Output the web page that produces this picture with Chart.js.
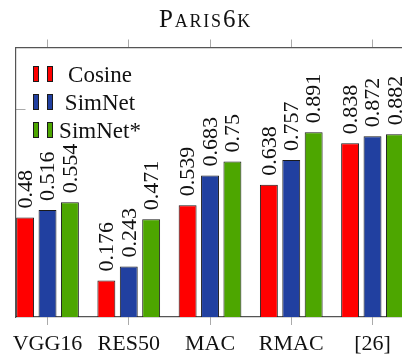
<!DOCTYPE html>
<html>
<head>
<meta charset="utf-8">
<script src="https://cdn.jsdelivr.net/npm/chart.js@4.4.1/dist/chart.umd.min.js"></script>
<style>
  html, body { margin:0; padding:0; background:#fff; overflow:hidden; }
  #wrap { position:relative; width:412px; height:356px; }
  #title { position:absolute; left:0; top:6px; width:411px; text-align:center;
           font-family:'Liberation Serif', serif; font-size:25px; line-height:1;
           font-variant:small-caps; letter-spacing:1.8px; color:#111; }
</style>
</head>
<body>
<div id="wrap">
  <canvas id="myChart"></canvas>
  <div id="title">Paris6k</div>
</div>
<script>
var categories = ['VGG16', 'RES50', 'MAC', 'RMAC', '[26]']
var cosine = [0.48, 0.176, 0.539, 0.638, 0.838]
var simnet = [0.516, 0.243, 0.683, 0.757, 0.872]
var simnetStar = [0.554, 0.471, 0.75, 0.891, 0.882]
var yTicks = [1]

var serif = "'Liberation Serif', serif"

function points(arr) {
    return arr.map(function(v, i){ return {x: i, y: v} })
}

function catTicks(scale) {
    scale.ticks = categories.map(function(c, i){ return {value: i} })
}

// value written above each bar, turned 90 degrees
var valueLabels = {
    id: 'valueLabels',
    afterDatasetsDraw: function(chart) {
        var ctx = chart.ctx
        ctx.save()
        ctx.font = '22px ' + serif
        ctx.fillStyle = '#111'
        ctx.textAlign = 'left'
        ctx.textBaseline = 'middle'
        chart.data.datasets.forEach(function(ds, i) {
            chart.getDatasetMeta(i).data.forEach(function(bar, j) {
                ctx.save()
                ctx.translate(bar.x, bar.y - 9)
                ctx.rotate(-Math.PI / 2)
                ctx.fillText(String(ds.data[j].y), 0, 1)
                ctx.restore()
            })
        })
        ctx.restore()
    }
}

// pgfplots style legend: two little bars then the name, centred
var barLegend = {
    id: 'barLegend',
    afterDraw: function(chart) {
        var ctx = chart.ctx
        var left = chart.chartArea.left
        var top = chart.chartArea.top
        ctx.save()
        ctx.font = '23px ' + serif
        ctx.textAlign = 'center'
        ctx.textBaseline = 'alphabetic'
        chart.data.datasets.forEach(function(ds, i) {
            var base = top + 34.5 + i * 28
            ctx.fillStyle = ds.backgroundColor
            ctx.strokeStyle = '#1a1a1a'
            ctx.lineWidth = 1
            ;[17.5, 31.5].forEach(function(dx) {
                ctx.fillRect(left + dx, base - 16, 6, 16)
                ctx.strokeRect(left + dx + 0.5, base - 15.5, 5, 15)
            })
            ctx.fillStyle = '#111'
            ctx.fillText(ds.label, left + 84.5, base)
        })
        ctx.restore()
    }
}

var axisBorder = {display: true, color: '#555', width: 1.2}

var ctx = document.getElementById('myChart').getContext('2d')
var chart = new Chart(ctx, {
    type: 'bar',
    data: {
        datasets: [
            {label: 'Cosine', data: points(cosine), backgroundColor: '#ff0000'},
            {label: 'SimNet', data: points(simnet), backgroundColor: '#2140a0'},
            {label: 'SimNet*', data: points(simnetStar), backgroundColor: '#4da600'}
        ]
    },
    options: {
        responsive: true,
        maintainAspectRatio: false,
        animation: false,
        layout: {padding: 0},
        datasets: {
            bar: {
                borderColor: '#1a1a1a',
                borderWidth: 1,
                categoryPercentage: 0.827,
                barPercentage: 0.8
            }
        },
        plugins: {
            legend: {display: false},
            title: {display: false},
            tooltip: {enabled: false}
        },
        scales: {
            x: {
                type: 'linear',
                position: 'bottom',
                min: -0.394,
                max: 4.486,
                offset: false,
                afterBuildTicks: catTicks,
                afterFit: function(s){ s.height = 39 },
                grid: {offset: false, drawOnChartArea: false, tickLength: 8, tickColor: '#aaa', tickWidth: 1},
                border: axisBorder,
                ticks: {
                    callback: function(v){ return categories[v] },
                    font: {family: serif, size: 22},
                    color: '#111',
                    padding: 6,
                    maxRotation: 0,
                    autoSkip: false
                }
            },
            xTop: {
                type: 'linear',
                position: 'top',
                min: -0.394,
                max: 4.486,
                offset: false,
                afterBuildTicks: catTicks,
                afterFit: function(s){ s.height = 47.5 },
                grid: {offset: false, drawOnChartArea: false, tickLength: 8, tickColor: '#aaa', tickWidth: 1},
                border: axisBorder,
                ticks: {display: false}
            },
            y: {
                min: 0,
                max: 1.3,
                afterBuildTicks: function(s){ s.ticks = yTicks.map(function(v){ return {value: v} }) },
                afterFit: function(s){ s.width = 15.5 },
                grid: {drawOnChartArea: false, tickLength: -10, tickColor: '#aaa', tickWidth: 1},
                border: axisBorder,
                ticks: {display: false}
            }
        }
    },
    plugins: [valueLabels, barLegend]
})
</script>
</body>
</html>
